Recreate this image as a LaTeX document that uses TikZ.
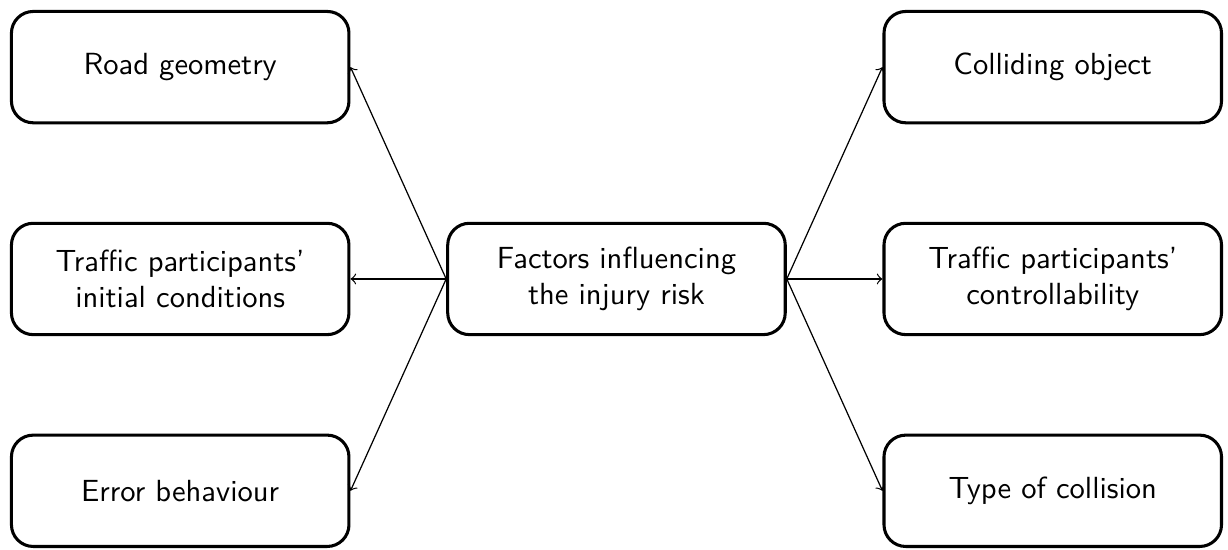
\documentclass[tikz,border=0pt]{standalone}
\usetikzlibrary{positioning}

\begin{document}
\begin{tikzpicture}[node distance=1.12cm and 1.1cm,every node/.style={font=\sffamily},
  factor/.style={draw,line width=1pt,rounded corners=0.25cm,align=center,minimum width=3.88cm,minimum height=1.28cm}]
\node[factor] (risk) {Factors influencing\\the injury risk};
\node[factor,left=of risk] (init) {Traffic participants'\\initial conditions};
\node[factor,above=of init] (road) {Road geometry};
\node[factor,below=of init] (error) {Error behaviour};
\node[factor,right=of risk] (ctrl) {Traffic participants'\\controllability};
\node[factor,above=of ctrl] (obj) {Colliding object};
\node[factor,below=of ctrl] (coll) {Type of collision};
\draw[->] (risk.west) -- (road.east);
\draw[->] (risk.west) -- (init.east);
\draw[->] (risk.west) -- (error.east);
\draw[->] (risk.east) -- (obj.west);
\draw[->] (risk.east) -- (ctrl.west);
\draw[->] (risk.east) -- (coll.west);
\useasboundingbox ([shift={(-0.114cm,0.114cm)}]road.north west) rectangle ([shift={(0.057cm,-0.023cm)}]coll.south east);
\end{tikzpicture}
\end{document}
